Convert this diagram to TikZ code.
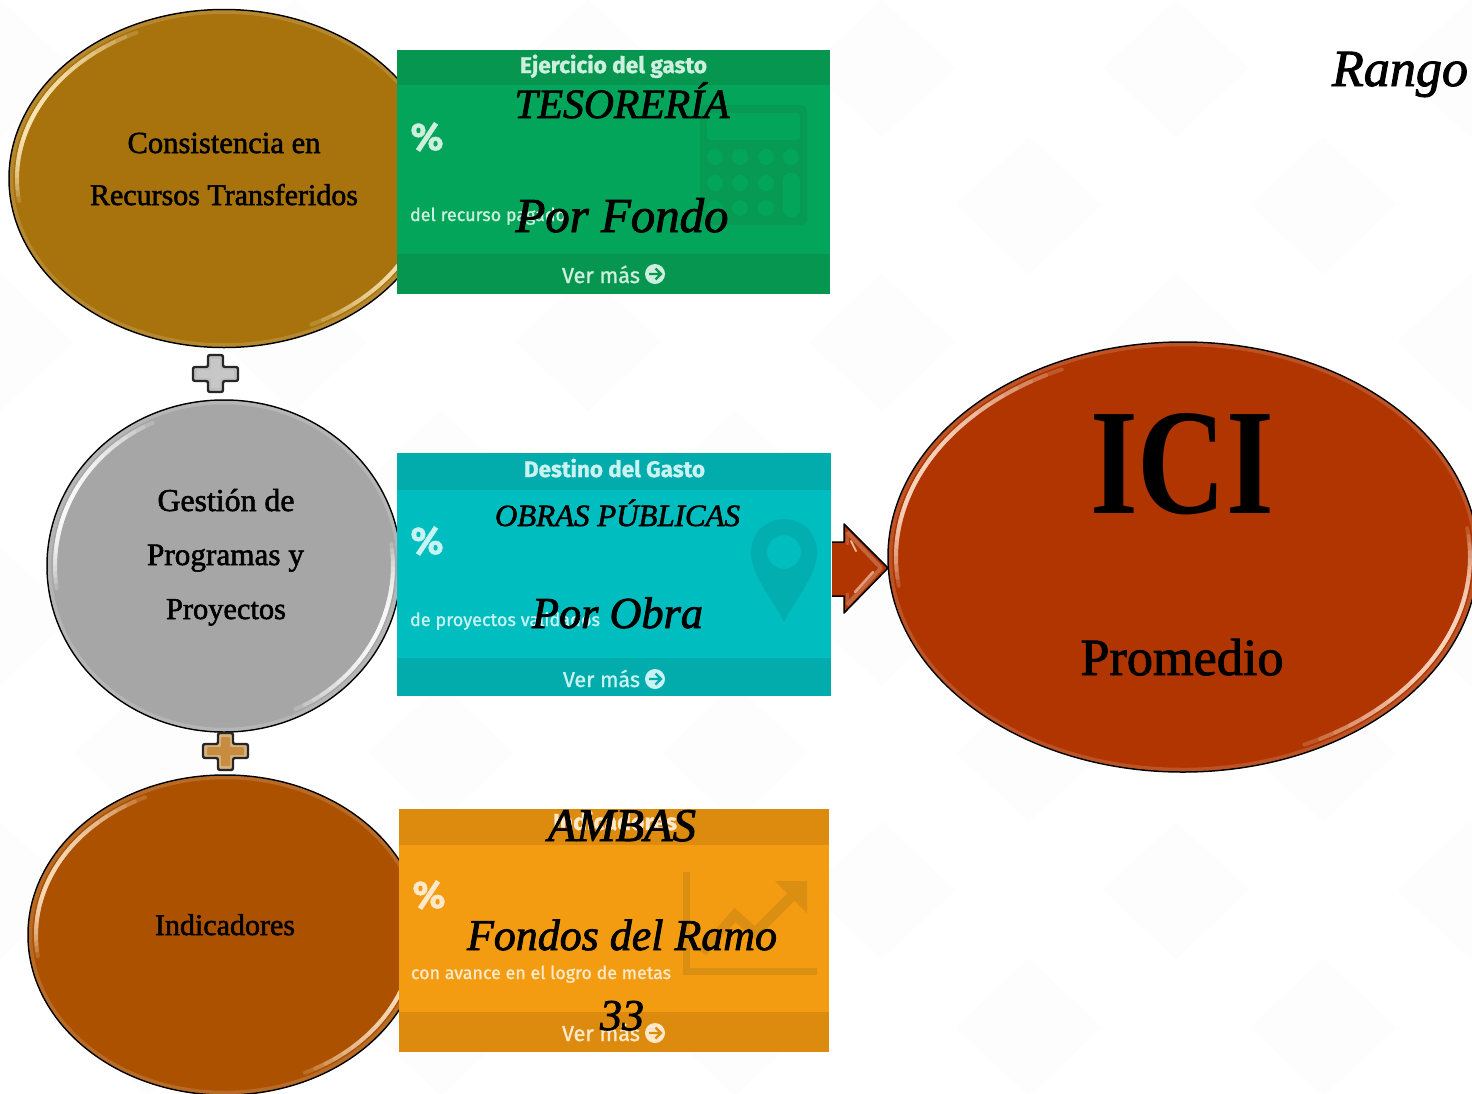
\documentclass[tikz,border=0pt]{standalone}
\usepackage{fontspec}
\usepackage{graphicx}
\setmainfont{Liberation Serif}[FakeBold=1.8]
\newfontfamily\icifont{Liberation Serif Bold}
\newfontfamily\uif{Fira Sans}[FakeBold=1.2]
\newfontfamily\uibf{Fira Sans SemiBold}
\usetikzlibrary{shapes.geometric}
\definecolor{goldc}{HTML}{A8730C}
\definecolor{goldh}{HTML}{FFEDBE}
\definecolor{grayc}{HTML}{A6A6A6}
\definecolor{brownc}{HTML}{AC5100}
\definecolor{brownh}{HTML}{FFE3C4}
\definecolor{redc}{HTML}{B03500}
\definecolor{redh}{HTML}{FFE0CC}
\definecolor{greenb}{HTML}{03A55A}
\definecolor{greenh}{HTML}{069650}
\definecolor{greeni}{HTML}{069A53}
\definecolor{greent}{HTML}{CDEFDD}
\definecolor{cyanb}{HTML}{00BEBF}
\definecolor{cyanh}{HTML}{02ABAC}
\definecolor{cyani}{HTML}{02AEAF}
\definecolor{cyant}{HTML}{C8F3F2}
\definecolor{orb}{HTML}{F39C12}
\definecolor{orh}{HTML}{DC8B0F}
\definecolor{ori}{HTML}{DB8F12}
\definecolor{ort}{HTML}{FDE9C9}
\definecolor{bgtri}{HTML}{FDFDFD}
\newcommand\fitw[2]{\resizebox{#1pt}{!}{#2}}
\newcommand\hlarc[8]{\draw[#8,line width=4pt,opacity=#7,line cap=round] plot[domain=#5:#6,samples=50,smooth] ({#1+(#3-8)*cos(\x)},{#2+(#4-8)*sin(\x)});}
\newcommand\gloss[6]{%
 \draw[#5,line width=3.5pt,opacity=.5] (#1,#2) ellipse [x radius=#3-2.5,y radius=#4-2.5];
 \foreach \off in {0,180}{
  \foreach \k in {0,...,11}{
   \pgfmathsetmacro\aa{172+\k*2.2+\off}\pgfmathsetmacro\ab{245-\k*3.5+\off}
   \hlarc{#1}{#2}{#3}{#4}{\aa}{\ab}{.2}{#6}
  }}}
\tikzset{
 ell/.style={ellipse,draw=black,line width=1.5pt,inner sep=0pt,outer sep=0pt},
 panel/.style={rectangle,inner sep=0pt,outer sep=0pt,anchor=north west},
 lbl/.style={inner sep=0pt,outer sep=0pt,anchor=base,font=\fontsize{30}{36}\selectfont},
 ilbl/.style={lbl,font=\fontsize{34}{40}\selectfont\itshape},
 ui/.style={inner sep=0pt,outer sep=0pt,anchor=base,font=\uif\fontsize{20}{24}\selectfont},
 uib/.style={ui,font=\uif\bfseries\fontsize{22}{26}\selectfont},
 plusshape/.style={draw=black!85,line width=2.4pt,rounded corners=2pt},
}
\begin{document}
\begin{tikzpicture}[x=1pt,y=-1pt]
\useasboundingbox (0,0) rectangle (1472,1093);
\fill[white] (0,0) rectangle (1472,1093);
% faint background lattice
\begin{scope}
\clip (0,0) rectangle (1472,1093);
\foreach \c in {0,...,10}{\foreach \r in {0,...,8}{
 \pgfmathtruncatemacro\m{mod(\c+\r,2)}
 \ifnum\m=0
  \fill[bgtri] ({\c*147},{\r*137}) -- ({\c*147+73},{\r*137+68}) -- ({\c*147},{\r*137+137}) -- ({\c*147-73},{\r*137+68}) -- cycle;
 \fi
}}
\end{scope}
% ellipses
\node[ell,fill=goldc,minimum width=430pt,minimum height=338pt] (e1) at (224,178.5) {};
\gloss{224}{178.5}{215}{169}{goldc!70!white}{goldh}
\node[ell,fill=grayc,minimum width=354pt,minimum height=332pt] (e2) at (224,566) {};
\gloss{224}{566}{177}{166}{grayc!65!white}{white}
\node[ell,fill=brownc,minimum width=394pt,minimum height=320pt] (e3) at (225,935) {};
\gloss{225}{935}{197}{160}{brownc!70!white}{brownh}
\node[ell,fill=redc,minimum width=590pt,minimum height=430pt] (e4) at (1183,557) {};
\gloss{1183}{557}{295}{215}{redc!70!white}{redh}
% plus signs
\path[fill=black!26,plusshape] (208,355) -- (223,355) -- (223,367) -- (238,367) -- (238,381) -- (223,381) -- (223,392) -- (208,392) -- (208,381) -- (193,381) -- (193,367) -- (208,367) -- cycle;
\path[fill=black!22,rounded corners=1pt] (211,359) -- (220,359) -- (220,370) -- (234,370) -- (234,378) -- (220,378) -- (220,388) -- (211,388) -- (211,378) -- (197,378) -- (197,370) -- (211,370) -- cycle;
\path[fill={rgb,255:red,214;green,178;blue,128},plusshape] (218,733) -- (233,733) -- (233,744) -- (248,744) -- (248,758) -- (233,758) -- (233,770) -- (218,770) -- (218,758) -- (203,758) -- (203,744) -- (218,744) -- cycle;
\path[fill={rgb,255:red,200;green,140;blue,64},rounded corners=1pt] (221,737) -- (230,737) -- (230,747) -- (244,747) -- (244,755) -- (230,755) -- (230,766) -- (221,766) -- (221,755) -- (207,755) -- (207,747) -- (221,747) -- cycle;
% green panel
\node[panel,fill=greenb,minimum width=433pt,minimum height=244pt] (p1) at (397,50) {};
\fill[greenh] (397,50) rectangle (830,85);
\fill[greenh] (397,254) rectangle (830,294);
\fill[greeni,rounded corners=6pt] (700,105) rectangle (807,225);
\fill[greenb,rounded corners=3pt] (707,113) rectangle (800,140);
\foreach \px in {715,740,766,791}{\fill[greenb] (\px,157) circle (8);}
\foreach \px in {715,740,766}{\fill[greenb] (\px,183) circle (8);\fill[greenb] (\px,208) circle (8);}
\fill[greenb,rounded corners=7pt] (783,173) rectangle (800,217);
\node[uib,text=greent] (g1) at (613.5,73) {\fitw{187}{Ejercicio del gasto}};
\node[uib,text=greent] (g2) at (427,150) {\fitw{33}{\%}};
\node[ui,text=greent] (g3) at (488,221) {\fitw{156}{del recurso pagado}};
\node[ui,text=greent] (g4) at (601,283) {\fitw{78}{Ver más}};
\fill[greent] (655,274) circle (10);
\draw[greenh,line width=2.2pt] (649,274) -- (660,274) (655.5,268.5) -- (661,274) -- (655.5,279.5);
% cyan panel
\node[panel,fill=cyanb,minimum width=434pt,minimum height=243pt] (p2) at (397,453) {};
\fill[cyanh] (397,453) rectangle (831,490);
\fill[cyanh] (397,658) rectangle (831,696);
\fill[cyani,even odd rule] (784,622) .. controls (770,595) and (751,575) .. (751,552) arc[start angle=180,end angle=360,x radius=33,y radius=33] .. controls (817,575) and (798,595) .. (784,622) -- cycle (801,552) arc[start angle=0,end angle=360,radius=17];
\node[uib,text=cyant] (c1) at (614.5,477) {\fitw{181}{Destino del Gasto}};
\node[uib,text=cyant] (c2) at (427,554) {\fitw{33}{\%}};
\node[ui,text=cyant] (c3) at (505,626) {\fitw{190}{de proyectos validados}};
\node[ui,text=cyant] (c4) at (601.5,687) {\fitw{77}{Ver más}};
\fill[cyant] (655,679) circle (10);
\draw[cyanh,line width=2.2pt] (649,679) -- (660,679) (655.5,673.5) -- (661,679) -- (655.5,684.5);
% orange panel
\node[panel,fill=orb,minimum width=430pt,minimum height=243pt] (p3) at (399,809) {};
\fill[orh] (399,809) rectangle (829,845);
\fill[orh] (399,1012) rectangle (829,1052);
\fill[ori] (683,872) rectangle (690,975);
\fill[ori] (683,968) rectangle (817,975);
\draw[ori,line width=10pt] (702,952) -- (735,915) -- (755,933) -- (793,895);
\fill[ori] (775,881) -- (807,881) -- (807,913) -- cycle;
\node[uib,text=ort] (o1) at (615,830) {\fitw{124}{Indicadores}};
\node[uib,text=ort] (o2) at (429,908) {\fitw{33}{\%}};
\node[ui,text=ort] (o3) at (541,979) {\fitw{260}{con avance en el logro de metas}};
\node[ui,text=ort] (o4) at (601,1041) {\fitw{78}{Ver más}};
\fill[ort] (655,1033) circle (10);
\draw[orh,line width=2.2pt] (649,1033) -- (660,1033) (655.5,1027.5) -- (661,1033) -- (655.5,1038.5);
% block arrow
\path[fill=redc] (832,542) -- (844,542) -- (844,524) -- (888,568) -- (844,613) -- (844,596) -- (832,596) -- cycle;
\draw[redc!70!white,line width=4pt,opacity=.8,line join=round] (847,532) -- (881,568) -- (847,605);
\draw[redc!75!white,line width=3.5pt,opacity=.7] (847.5,532) -- (847.5,545);
\draw[redc!75!white,line width=3.5pt,opacity=.7] (847.5,593) -- (847.5,605);
\draw[redh,line width=2pt,opacity=.75,line cap=round] (851,541) -- (856,551);
\draw[redh,line width=2.5pt,opacity=.6,line cap=round] (855,592) -- (873,572);
\path[draw=black,line width=1.5pt,line join=round] (832,542) -- (844,542) -- (844,524) -- (888,568) -- (844,613) -- (844,596) -- (832,596);
% ellipse texts
\node[lbl] (t1) at (224,153) {\fitw{193}{Consistencia en}};
\node[lbl] (t2) at (224,205) {\fitw{268}{Recursos Transferidos}};
\node[lbl] (t3) at (226,511) {\fitw{137}{Gestión de}};
\node[lbl] (t4) at (225.5,565) {\fitw{157}{Programas y}};
\node[lbl] (t5) at (226,619) {\fitw{120}{Proyectos}};
\node[lbl] (t6) at (225,935) {\fitw{140}{Indicadores}};
\node[lbl,font=\icifont\fontsize{120}{130}\selectfont] (t7) at (1182,513) {\resizebox{184pt}{100pt}{ICI}};
\node[lbl,font=\fontsize{56}{60}\selectfont] (t8) at (1182,675) {\fitw{203}{Promedio}};
% italic texts
\node[ilbl] (r1) at (1400,86) {\fitw{136}{Rango}};
\node[ilbl] (i1) at (622,118) {\fitw{215}{TESORERÍA}};
\node[ilbl] (i2) at (622,232) {\fitw{213}{Por Fondo}};
\node[ilbl] (i3) at (617.5,526) {\fitw{245}{OBRAS PÚBLICAS}};
\node[ilbl] (i4) at (617.5,628) {\fitw{171}{Por Obra}};
\node[ilbl] (i5) at (622,841) {\fitw{148}{AMBAS}};
\node[ilbl] (i6) at (622,950) {\fitw{310}{Fondos del Ramo}};
\node[ilbl] (i7) at (622,1030) {\fitw{44}{33}};
\end{tikzpicture}
\end{document}
